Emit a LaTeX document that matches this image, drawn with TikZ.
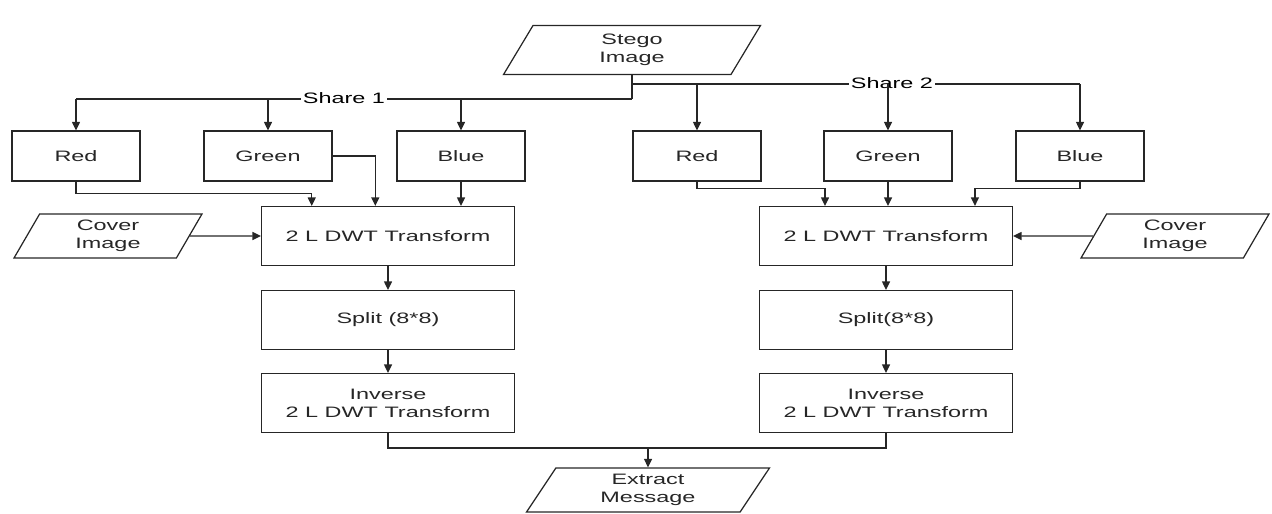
\documentclass[tikz,border=0pt]{standalone}
\usepackage{fontspec}
\setmainfont{Liberation Sans}[FakeStretch=1.55]
\usetikzlibrary{shapes.geometric,arrows.meta,calc}

\begin{document}
\begin{tikzpicture}[x=0.02cm,y=-0.02cm,
  font=\fontsize{8.6}{10.2}\selectfont,
  ln/.style={line width=0.7pt,black!85},
  box/.style={draw,ln,align=center,minimum width=2.56cm,minimum height=1cm},
  wbox/.style={box,minimum width=5.06cm,minimum height=1.18cm},
  io/.style={draw,ln,align=center,trapezium,trapezium stretches body,inner sep=0pt},
  arr/.style={ln,-{Triangle[length=1.7mm,width=1.6mm]}},
  lbl/.style={fill=white,inner sep=1pt}
]
\useasboundingbox (0,0) rectangle (1272,514);

\node[io,trapezium left angle=47,trapezium right angle=133,minimum width=5.14cm,minimum height=0.98cm] (stego) at (632,50) {Stego\\Image};

% share 1
\node[box] (red1) at (76,156) {Red};
\node[box] (green1) at (268,156) {Green};
\node[box] (blue1) at (461,156) {Blue};
% share 2
\node[box] (red2) at (697,156) {Red};
\node[box] (green2) at (888,156) {Green};
\node[box] (blue2) at (1080,156) {Blue};

\node[wbox] (dwt1) at (388,236) {2 L DWT Transform};
\node[wbox] (split1) at (388,320) {Split (8*8)};
\node[wbox] (inv1) at (388,403) {Inverse\\2 L DWT Transform};

\node[wbox] (dwt2) at (886,236) {2 L DWT Transform};
\node[wbox] (split2) at (886,320) {Split(8*8)};
\node[wbox] (inv2) at (886,403) {Inverse\\2 L DWT Transform};

\node[io,trapezium left angle=51,trapezium right angle=129,minimum width=3.76cm,minimum height=0.88cm] (cov1) at (108,236) {Cover\\Image};
\node[io,trapezium left angle=51,trapezium right angle=129,minimum width=3.76cm,minimum height=0.88cm] (cov2) at (1175,236) {Cover\\Image};

\node[io,trapezium left angle=47,trapezium right angle=133,minimum width=4.86cm,minimum height=0.88cm] (ext) at (648,490) {Extract\\Message};

\coordinate (j1) at ($(stego.south)+(0,24)$);
\coordinate (j2) at ($(stego.south)+(0,9)$);

\draw[ln] (stego.south) -- (j1);
\draw[ln] (red1.north |- j1) -- (j1);
\draw[ln] (j2) -- (blue2.north |- j2);
\node[lbl] (sh1) at (344,98) {Share 1};
\node[lbl] (sh2) at (892,83) {Share 2};

\foreach \b in {red1,green1,blue1}
  \draw[arr] (\b.north |- j1) -- (\b.north);
\foreach \b in {red2,green2,blue2}
  \draw[arr] (\b.north |- j2) -- (\b.north);

% into the transforms
\draw[arr] (red1.south) -- ++(0,12) -| ($(dwt1.north west)!0.2!(dwt1.north east)$);
\draw[arr] (green1.east) -| ($(dwt1.north west)!0.45!(dwt1.north east)$);
\draw[arr] (blue1.south) -- (blue1.south |- dwt1.north);
\draw[arr] (cov1.east) -- (dwt1.west);

\draw[arr] (red2.south) -- ++(0,7) -| ($(dwt2.north west)!0.26!(dwt2.north east)$);
\draw[arr] (green2.south) -- (green2.south |- dwt2.north);
\draw[arr] (blue2.south) -- ++(0,7) -| ($(dwt2.north west)!0.85!(dwt2.north east)$);
\draw[arr] (cov2.west) -- (dwt2.east);

\draw[arr] (dwt1) -- (split1);
\draw[arr] (split1) -- (inv1);
\draw[arr] (dwt2) -- (split2);
\draw[arr] (split2) -- (inv2);

\draw[ln] (inv1.south) -- ++(0,15) -| (inv2.south);
\draw[arr] ([yshift=0.4cm]ext.north) -- (ext.north);

\end{tikzpicture}
\end{document}
